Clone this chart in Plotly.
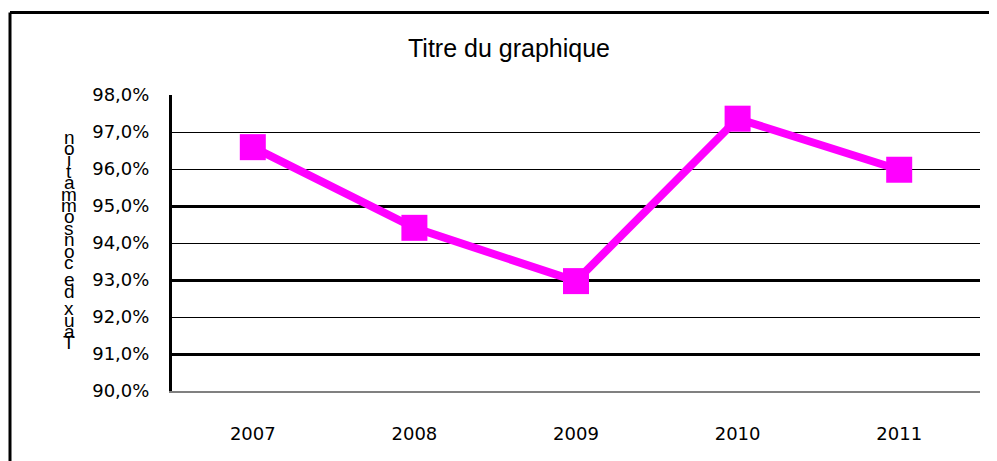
import plotly.graph_objects as go

years = ["2007", "2008", "2009", "2010", "2011"]
taux = [0.9659, 0.9441, 0.9297, 0.9736, 0.9598]
title_text = "Titre du graphique"
y_title = "Taux de consommation"
y_ticks = [0.90, 0.91, 0.92, 0.93, 0.94, 0.95, 0.96, 0.97, 0.98]
thick_grid = [0.91, 0.93, 0.95]

MAGENTA = "#FF00FF"
OFF = 8  # page body margin
W, H = 997 - OFF, 461 - OFF
L, T = 172 - OFF, 95 - OFF
R, B = 17, 70

fig = go.Figure()
# invisible trace anchoring the primary axes
fig.add_trace(go.Scatter(x=years, y=taux, mode="lines", line=dict(width=0),
                         hoverinfo="skip", showlegend=False, yaxis="y"))
fig.add_trace(go.Scatter(
    x=years, y=taux, mode="lines+markers", yaxis="y2",
    line=dict(color=MAGENTA, width=8),
    marker=dict(symbol="square", size=26, color=MAGENTA, line=dict(width=0)),
    showlegend=False,
))

tick_font = dict(family="DejaVu Sans", size=18, color="black")

fig.update_layout(
    width=W, height=H,
    margin=dict(l=L, r=R, t=T, b=B),
    paper_bgcolor="white", plot_bgcolor="white",
    separators=", ",
    title=dict(text=title_text, x=(509 - OFF) / W, xref="container", xanchor="center",
               y=1 - (48 - OFF) / H, yref="container", yanchor="middle",
               font=dict(family="Liberation Sans", size=25, color="black")),
    xaxis=dict(type="category", range=[-0.5, 4.5], showgrid=False,
               showline=True, linecolor="#808080", linewidth=2,
               ticks="", tickfont=tick_font, ticklabelstandoff=25,
               zeroline=False, fixedrange=True),
    yaxis=dict(range=[0.90, 0.98], tickvals=y_ticks, tickformat=".1%",
               showgrid=True, gridcolor="black", gridwidth=1,
               showline=True, linecolor="black", linewidth=3,
               ticks="", tickfont=tick_font, ticklabelstandoff=16,
               zeroline=False),
    yaxis2=dict(range=[0.90, 0.98], overlaying="y", tickvals=thick_grid,
                showticklabels=False, showgrid=True, gridcolor="black",
                gridwidth=2.5, showline=False, zeroline=False, ticks=""),
)

# stacked letters of the y-axis title (as in the original rendering)
letters = list(reversed(y_title))
ypix = 137 - OFF
for ch in letters:
    if ch == " ":
        ypix += 6
        continue
    fig.add_annotation(text=ch, xref="paper", yref="paper", x=0, y=1,
                       xshift=(69 - OFF) - L, yshift=-(ypix - T), showarrow=False,
                       xanchor="center", yanchor="middle",
                       font=dict(family="Liberation Sans", size=19, color="black"))
    ypix += 11.4

# outer chart border (extends past right/bottom edges)
pw = W - L - R
ph = H - T - B
def px_x(p):
    return (p - OFF - L) / pw
def px_y(p):
    return 1 - (p - OFF - T) / ph
fig.add_shape(type="line", xref="paper", yref="paper",
              x0=px_x(10), x1=px_x(1010), y0=px_y(12.5), y1=px_y(12.5),
              line=dict(color="black", width=3))
fig.add_shape(type="line", xref="paper", yref="paper",
              x0=px_x(10), x1=px_x(10), y0=px_y(12.5), y1=px_y(480),
              line=dict(color="black", width=3))

fig.write_html("out.html")
